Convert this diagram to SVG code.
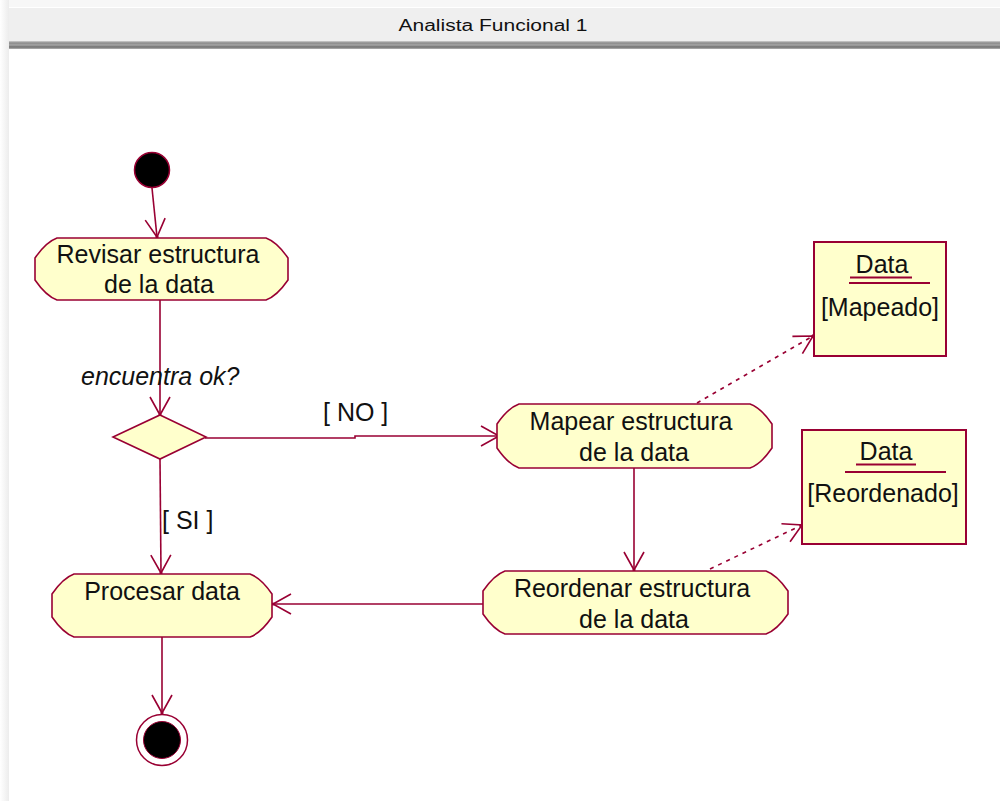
<svg xmlns="http://www.w3.org/2000/svg" width="1000" height="801" viewBox="0 0 1000 801">
  <defs>
    <style>
      .act { fill: #ffffcc; stroke: #990033; stroke-width: 1.6; }
      .obj { fill: #ffffcc; stroke: #990033; stroke-width: 2; }
      .lbl { font-family: "Liberation Sans", Arial, sans-serif; font-size: 25px; fill: #111; }
      .mid { text-anchor: middle; }
      .edge { fill: none; stroke: #990033; stroke-width: 1.6; }
      .dep { fill: none; stroke: #990033; stroke-width: 1.6; stroke-dasharray: 4 5; }
      .rule { stroke: #990033; stroke-width: 1.8; }
    </style>
    <marker id="open" markerUnits="userSpaceOnUse" markerWidth="24" markerHeight="24" viewBox="-20 -12 22 24" refX="0" refY="0" orient="auto">
      <path d="M -18 -10 L 0 0 L -18 10" fill="none" stroke="#990033" stroke-width="1.6"/>
      <circle cx="0" cy="0" r="1.6" fill="#990033"/>
    </marker>
    <linearGradient id="bar" x1="0" y1="0" x2="0" y2="1">
      <stop offset="0" stop-color="#d0d0d0"/>
      <stop offset="0.25" stop-color="#8a8a8a"/>
      <stop offset="0.5" stop-color="#a6a6a6"/>
      <stop offset="0.75" stop-color="#707070"/>
      <stop offset="1" stop-color="#b4b4b4"/>
    </linearGradient>
    <linearGradient id="edgeL" x1="0" y1="0" x2="1" y2="0">
      <stop offset="0" stop-color="#ffffff"/>
      <stop offset="1" stop-color="#ececec"/>
    </linearGradient>
  </defs>

  <!-- window frame -->
  <rect x="0" y="0" width="1000" height="801" fill="#ffffff"/>
  <rect x="0" y="0" width="9" height="801" fill="url(#edgeL)"/>
  <rect x="9" y="0" width="991" height="7" fill="#f7f7f7"/>
  <rect x="9" y="8" width="991" height="33" fill="#efefef"/>
  <rect x="9" y="41" width="991" height="8" fill="url(#bar)"/>
  <text x="493" y="31" text-anchor="middle" font-family="Liberation Sans, Arial, sans-serif" font-size="16" fill="#111" textLength="189" lengthAdjust="spacingAndGlyphs">Analista Funcional 1</text>

  <!-- connectors -->
  <g id="connectors">
    <path class="edge" d="M 152 188 L 157 237" marker-end="url(#open)"/>
    <path class="edge" d="M 160 300 L 160 415" marker-end="url(#open)"/>
    <path class="edge" d="M 205 438 L 355 438 L 355 436 L 499 436" marker-end="url(#open)"/>
    <path class="edge" d="M 160 459 L 161 573" marker-end="url(#open)"/>
    <path class="edge" d="M 634 468 L 634 570" marker-end="url(#open)"/>
    <path class="edge" d="M 483 604 L 273 604" marker-end="url(#open)"/>
    <path class="edge" d="M 162 637 L 162 713" marker-end="url(#open)"/>
    <path class="dep" d="M 697 403 L 813 336" marker-end="url(#open)"/>
    <path class="dep" d="M 710 569 L 802 525" marker-end="url(#open)"/>
    <text class="lbl" x="81" y="385" font-style="italic">encuentra ok?</text>
    <text class="lbl" x="323" y="421">[ NO ]</text>
    <text class="lbl" x="162" y="529">[ SI ]</text>
  </g>

  <!-- initial state -->
  <g id="start">
    <circle cx="152" cy="170" r="17.5" fill="#000" stroke="#990033" stroke-width="1.5"/>
  </g>

  <!-- activity: Revisar -->
  <g id="revisar">
    <path class="act" d="M 57 238 H 266 Q 277 242 288 258 V 280 Q 277 296 266 300 H 57 Q 46 296 35 280 V 258 Q 46 242 57 238 Z"/>
    <text class="lbl mid" x="158" y="263">Revisar estructura</text>
    <text class="lbl mid" x="159" y="293">de la data</text>
  </g>

  <!-- decision -->
  <g id="decision">
    <path class="act" d="M 160 415 L 206 437 L 160 459 L 113 437 Z"/>
  </g>

  <!-- activity: Mapear -->
  <g id="mapear">
    <path class="act" d="M 519 404 H 750 Q 761 408 772 424 V 448 Q 761 464 750 468 H 519 Q 508 464 497 448 V 424 Q 508 408 519 404 Z"/>
    <text class="lbl mid" x="631" y="430">Mapear estructura</text>
    <text class="lbl mid" x="634" y="461">de la data</text>
  </g>

  <!-- activity: Reordenar -->
  <g id="reordenar">
    <path class="act" d="M 505 571 H 766 Q 777 575 788 591 V 614 Q 777 630 766 634 H 505 Q 494 630 483 614 V 591 Q 494 575 505 571 Z"/>
    <text class="lbl mid" x="632" y="597">Reordenar estructura</text>
    <text class="lbl mid" x="634" y="628">de la data</text>
  </g>

  <!-- activity: Procesar -->
  <g id="procesar">
    <path class="act" d="M 74 574 H 250 Q 261 578 272 594 V 617 Q 261 633 250 637 H 74 Q 63 633 52 617 V 594 Q 63 578 74 574 Z"/>
    <text class="lbl mid" x="162" y="600">Procesar data</text>
  </g>

  <!-- final state -->
  <g id="end">
    <circle cx="162" cy="740" r="25.5" fill="#ffffff" stroke="#990033" stroke-width="1.5"/>
    <circle cx="162" cy="740" r="18.5" fill="#000" stroke="#990033" stroke-width="1"/>
  </g>

  <!-- object: Data [Mapeado] -->
  <g id="data-mapeado">
    <rect class="obj" x="814" y="242" width="132" height="114"/>
    <text class="lbl mid" x="882" y="273">Data</text>
    <line class="rule" x1="850" y1="277.5" x2="912" y2="277.5"/>
    <line class="rule" x1="849" y1="283" x2="930" y2="283"/>
    <text class="lbl mid" x="880" y="316">[Mapeado]</text>
  </g>

  <!-- object: Data [Reordenado] -->
  <g id="data-reordenado">
    <rect class="obj" x="802" y="430" width="164" height="114"/>
    <text class="lbl mid" x="886" y="460">Data</text>
    <line class="rule" x1="856" y1="464.5" x2="916" y2="464.5"/>
    <line class="rule" x1="845" y1="472" x2="946" y2="472"/>
    <text class="lbl mid" x="883" y="502">[Reordenado]</text>
  </g>
</svg>
